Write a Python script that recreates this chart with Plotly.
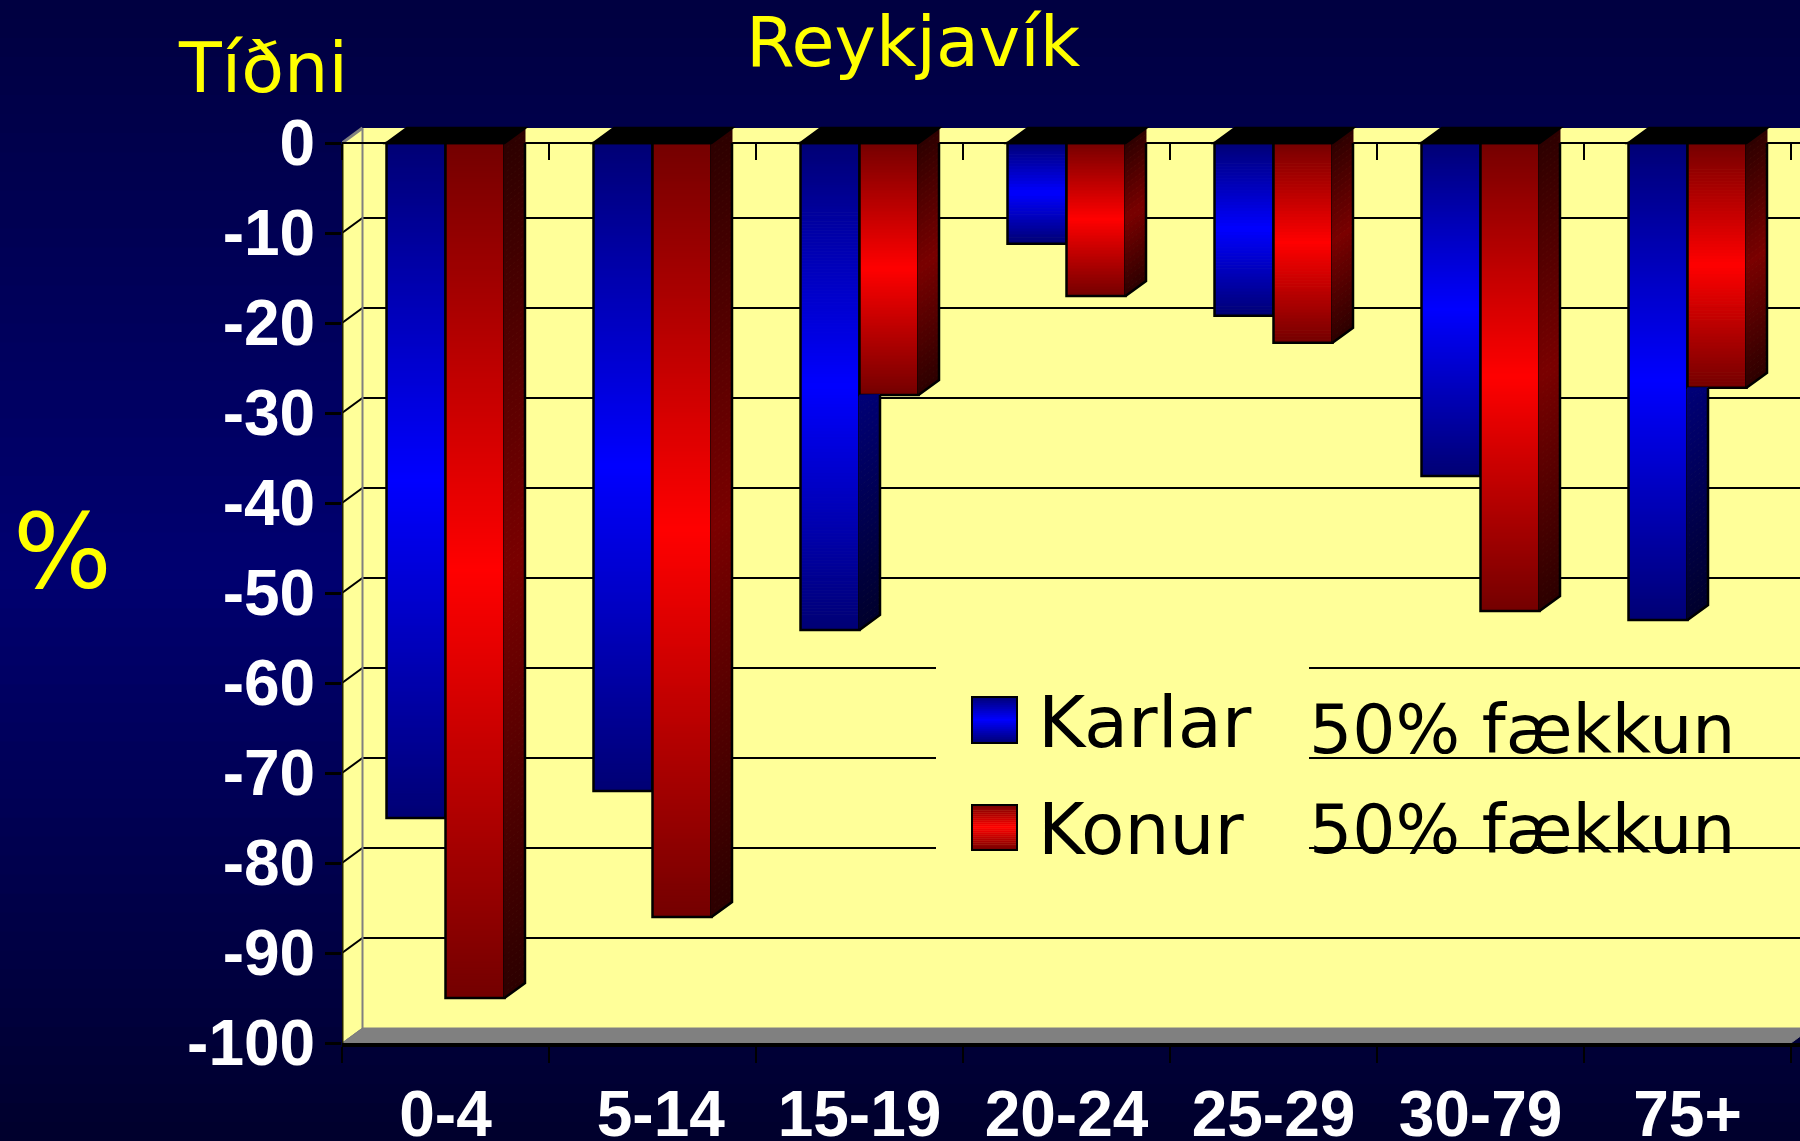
import plotly.graph_objects as go

categories = ["0-4", "5-14", "15-19", "20-24", "25-29", "30-79", "75+"]
karlar = [-75.0, -72.0, -54.1, -11.2, -19.2, -37.0, -53.0]
konur = [-95.0, -86.0, -28.0, -17.0, -22.2, -52.0, -27.2]
y_ticks = [0, -10, -20, -30, -40, -50, -60, -70, -80, -90, -100]
y_ticktext = ["0", "-10", "-20", "-30", "-40", "-50", "-60", "-70", "-80", "-90", "-100"]
boundaries = [0, 1, 2, 3, 4, 5, 6, 7]
label_positions = [0.5, 1.54, 2.5, 3.5, 4.5, 5.5, 6.5]

W, H = 1800, 1141
L, R, T, B = 342, 1800, 120, 1043
UX = 207.0
UY = 9.0
X_MAX = (R - L) / UX
Y_TOP = (143 - T) / UY
DX = 20.5 / UX
DY = 15 / UY
BW = 0.285
YELLOW = "#FFFF99"


def px(x):
    return (x - L) / (R - L)


def py(y):
    return (B - y) / (B - T)


def mix(a, b, t):
    return "rgb(%d,%d,%d)" % tuple(round(a[i] + (b[i] - a[i]) * t) for i in range(3))


def grad(end, mid, t):
    s = 1 - abs(2 * t - 1)
    return mix(end, mid, s)


def path(points):
    return "M " + " L ".join(f"{x:.4f} {y:.4f}" for x, y in points) + " Z"


shapes = []
# slide background
N_BG = 60
for i in range(N_BG):
    t = (i + 0.5) / N_BG
    c = mix((0, 0, 0x40), (0, 0, 0x70), t / 0.5) if t < 0.5 else mix((0, 0, 0x70), (0, 0, 0x2C), (t - 0.5) / 0.5)
    shapes.append(dict(type="rect", xref="paper", yref="paper", layer="below",
                       x0=px(0), x1=px(W), y0=py((i + 1) / N_BG * H + 1), y1=py(i / N_BG * H),
                       fillcolor=c, line=dict(width=0)))

# chart walls and floor
shapes.append(dict(type="path", layer="below", xref="x", yref="y",
                   path=path([(DX, -100 + DY), (DX, DY), (X_MAX, DY), (X_MAX, -100 + DY)]),
                   fillcolor=YELLOW, line=dict(width=0)))
shapes.append(dict(type="path", layer="below", xref="x", yref="y",
                   path=path([(0, -100), (0, 0), (DX, DY), (DX, -100 + DY)]),
                   fillcolor=YELLOW, line=dict(width=0)))
shapes.append(dict(type="path", layer="below", xref="x", yref="y",
                   path=path([(0, -100), (DX, -100 + DY), (7 + DX, -100 + DY), (7, -100)]),
                   fillcolor="#808080", line=dict(color="#808080", width=1)))
# grid on back wall and side wall
for v in y_ticks[1:-1]:
    shapes.append(dict(type="path", layer="below", xref="x", yref="y",
                       path=f"M 0 {v} L {DX} {v + DY} L {X_MAX} {v + DY}",
                       fillcolor="rgba(0,0,0,0)", line=dict(color="black", width=2)))
# wall edges
shapes.append(dict(type="line", layer="below", xref="x", yref="y", x0=DX, x1=DX, y0=-100 + DY, y1=DY,
                   line=dict(color="#808080", width=2)))
shapes.append(dict(type="line", layer="below", xref="x", yref="y", x0=0, x1=DX, y0=0, y1=DY,
                   line=dict(color="#808080", width=3)))
shapes.append(dict(type="line", layer="below", xref="x", yref="y", x0=0, x1=0, y0=-100, y1=0,
                   line=dict(color="#222200", width=3)))
# legend box hides grid (same coordinate layer as the grid, so it stacks on top)
shapes.append(dict(type="rect", layer="below", xref="x", yref="y",
                   x0=(936 - L) / UX, x1=(1309 - L) / UX, y0=(143 - 860) / UY, y1=(143 - 655) / UY,
                   fillcolor=YELLOW, line=dict(width=0)))

traces = []
BLUE_END, BLUE_MID = (0, 0, 0x74), (0, 0, 255)
RED_END, RED_MID = (0x74, 0, 0), (255, 0, 0)
BLUE_S_END, BLUE_S_MID = (0, 0, 0x2C), (0, 0, 0x7A)
RED_S_END, RED_S_MID = (0x2C, 0, 0), (0x7A, 0, 0)


def bar_traces(values, offset, end, mid, name):
    xs, bases, ys, colors = [], [], [], []
    for i, v in enumerate(values):
        n = max(4, round(abs(v) * UY / 3))
        for k in range(n):
            xs.append(i + 0.5 + offset)
            bases.append(v * k / n)
            ys.append(v / n)
            colors.append(grad(end, mid, (k + 0.5) / n))
    traces.append(go.Bar(x=xs, y=ys, base=bases, width=BW,
                         marker=dict(color=colors, line=dict(width=1, color=colors)),
                         showlegend=False, hoverinfo="skip"))
    traces.append(go.Bar(x=[i + 0.5 + offset for i in range(len(values))], y=values, width=BW, name=name,
                         marker=dict(color="rgba(0,0,0,0)", line=dict(color="black", width=2.5)),
                         showlegend=False, hoverinfo="skip"))


bar_traces(karlar, -BW / 2, BLUE_END, BLUE_MID, "Karlar")
bar_traces(konur, BW / 2, RED_END, RED_MID, "Konur")


def side(xr, v, end, mid, clip=None):
    n = max(3, round(abs(v) * UY / 6))
    for k in range(n):
        y1, y2 = v * k / n, v * (k + 1) / n
        pts = [(xr, y1), (xr + DX, y1 + DY), (xr + DX, y2 + DY), (xr, y2)]
        if clip is not None:
            pts = [(x, min(y, clip)) for x, y in pts]
            if pts[3][1] >= clip and pts[2][1] >= clip:
                continue
        c = grad(end, mid, (k + 0.5) / n)
        shapes.append(dict(type="path", layer="above", xref="x", yref="y", path=path(pts),
                           fillcolor=c, line=dict(color=c, width=1)))
    top = 0 if clip is None else clip
    outline = f"M {xr} {v} L {xr + DX} {v + DY} L {xr + DX} {min(DY, top)}"
    shapes.append(dict(type="path", layer="above", xref="x", yref="y", path=outline,
                       fillcolor="rgba(0,0,0,0)", line=dict(color="black", width=2.5)))


for i, (m, f) in enumerate(zip(karlar, konur)):
    c = i + 0.5
    if m < f:
        side(c, m, BLUE_S_END, BLUE_S_MID, clip=f)
    side(c + BW, f, RED_S_END, RED_S_MID)
    shapes.append(dict(type="path", layer="above", xref="x", yref="y",
                       path=path([(c - BW, 0), (c - BW + DX, DY), (c + BW + DX, DY), (c + BW, 0)]),
                       fillcolor="black", line=dict(color="black", width=2.5)))

# axis at zero, carried by a helper trace
traces.append(go.Scatter(x=[0, 7], y=[0, 0], xaxis="x2", yaxis="y", mode="lines",
                         line=dict(color="black", width=2), showlegend=False, hoverinfo="skip"))

# legend swatches
for top, bot, end, mid in [(697, 743, BLUE_END, BLUE_MID), (805, 850, RED_END, RED_MID)]:
    n = 23
    for k in range(n):
        y0 = top + (bot - top) * k / n
        y1 = top + (bot - top) * (k + 1) / n
        c = grad(end, mid, (k + 0.5) / n)
        shapes.append(dict(type="rect", layer="above", xref="paper", yref="paper",
                           x0=px(972), x1=px(1017), y0=py(y1), y1=py(y0),
                           fillcolor=c, line=dict(color=c, width=0.5)))
    shapes.append(dict(type="rect", layer="above", xref="paper", yref="paper",
                       x0=px(972), x1=px(1017), y0=py(bot), y1=py(top),
                       fillcolor="rgba(0,0,0,0)", line=dict(color="black", width=2)))


def label(text, x, y, size, color, anchor="left"):
    return dict(text=text, xref="paper", yref="paper", x=px(x), y=py(y), xanchor=anchor, yanchor="middle",
                showarrow=False, font=dict(family="DejaVu Sans", size=size, color=color))


annotations = [
    label("Reykjavík", 913, 42, 70, "#FFFF00", "center"),
    label("Tíðni", 263, 68, 70, "#FFFF00", "center"),
    label("%", 62, 552, 104, "#FFFF00", "center"),
    label("Karlar", 1036, 722, 72, "black"),
    label("Konur", 1036, 829, 71, "black"),
    label("50% fækkun", 1307, 729, 68, "black"),
    label("50% fækkun", 1307, 829, 68, "black"),
]

fig = go.Figure(traces)
tick_font = dict(family="Liberation Sans", size=64, color="white", weight="bold")
fig.update_layout(
    width=W, height=H, autosize=False,
    margin=dict(l=L, r=W - R, t=T, b=H - B, pad=0, autoexpand=False),
    paper_bgcolor="#000040", plot_bgcolor="rgba(0,0,0,0)",
    barmode="overlay", hovermode=False, showlegend=False,
    shapes=shapes, annotations=annotations,
    xaxis=dict(range=[0, X_MAX], tickmode="array",
               tickvals=label_positions, ticktext=categories,
               ticks="", showgrid=False, zeroline=False, tickfont=tick_font, tickangle=0,
               showline=True, linecolor="black", linewidth=4, ticklabelstandoff=12,
               minor=dict(tickmode="array", tickvals=boundaries, ticks="outside", ticklen=16,
                          tickwidth=2, tickcolor="black", showgrid=False)),
    xaxis2=dict(range=[0, X_MAX], overlaying="x", anchor="free", side="bottom",
                position=(B - 143) / (B - T), tickmode="array", tickvals=boundaries,
                ticks="outside", ticklen=16, tickwidth=2, tickcolor="black",
                showticklabels=False, showgrid=False, zeroline=False,
                showline=True, linecolor="black", linewidth=2),
    yaxis=dict(range=[-100, Y_TOP], tickmode="array", tickvals=y_ticks, ticktext=y_ticktext,
               ticks="outside", ticklen=16, tickwidth=3, tickcolor="black", showgrid=False,
               zeroline=False, showline=False, tickfont=tick_font, ticklabelstandoff=-3),
)
fig.write_html("out.html", config={"displayModeBar": False},
               post_script="document.body.style.margin='0';document.documentElement.style.overflow='hidden';document.body.style.background='#000040';")
